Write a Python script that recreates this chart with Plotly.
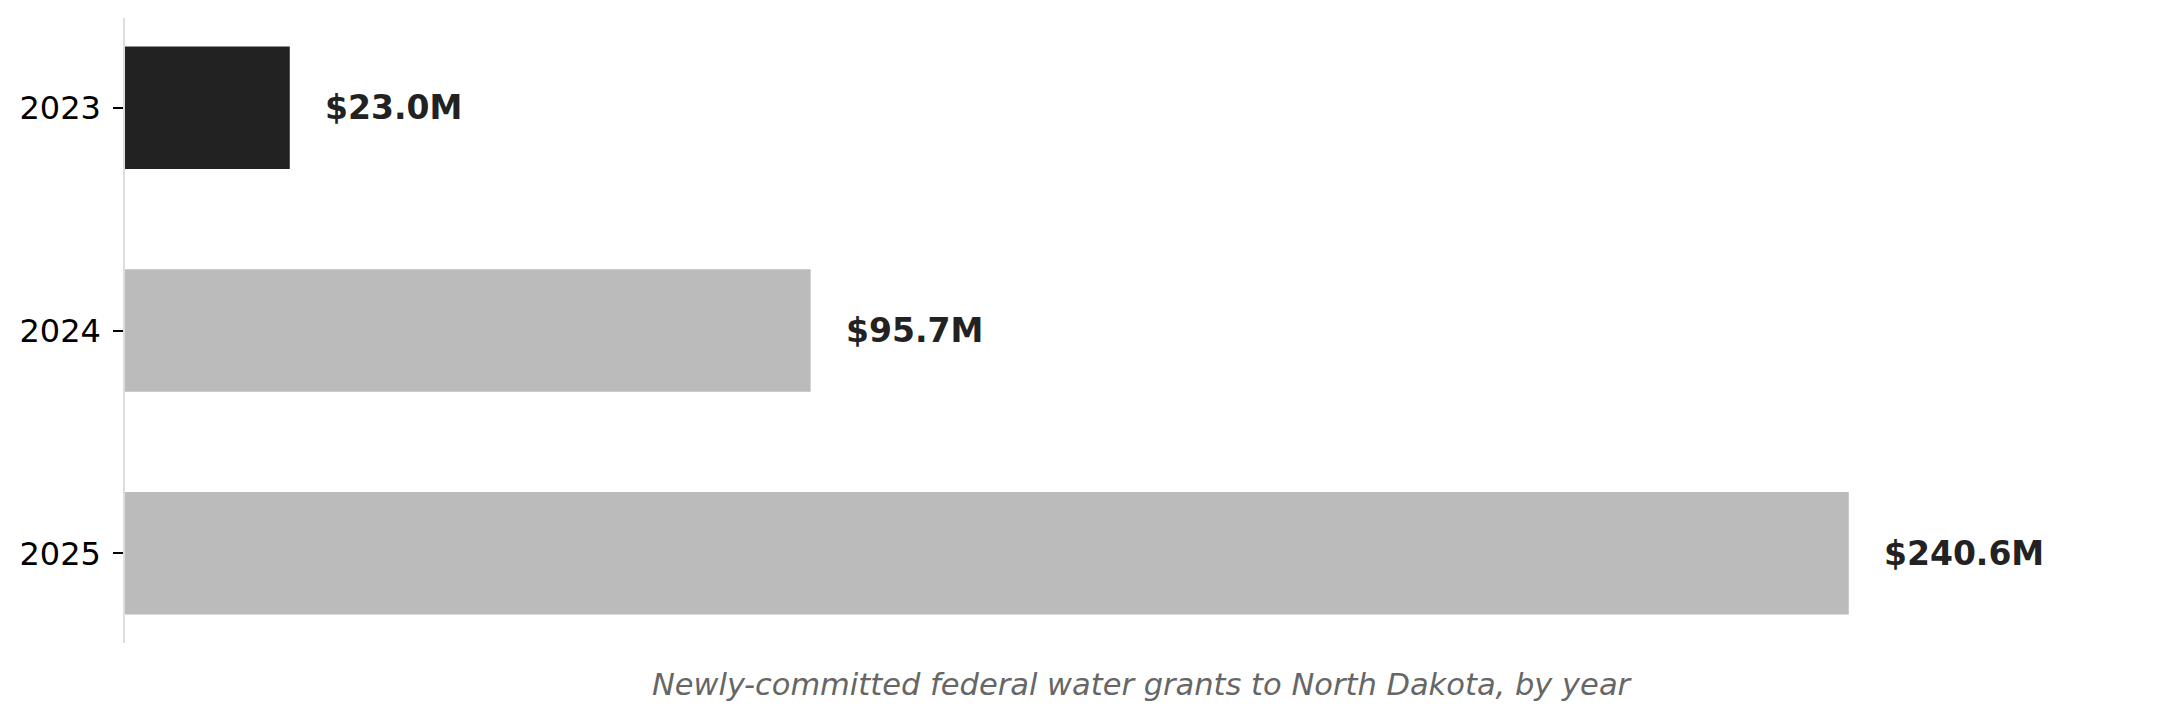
import plotly.graph_objects as go

years = ["2023", "2024", "2025"]
grants_musd = [23.0, 95.7, 240.6]
labels = ["$23.0M", "$95.7M", "$240.6M"]
bar_colors = ["#222222", "#bbbbbb", "#bbbbbb"]
caption = "Newly-committed federal water grants to North Dakota, by year"

fig = go.Figure()
fig.add_trace(go.Bar(
    x=grants_musd, y=years, orientation="h",
    marker=dict(color=bar_colors, line=dict(width=0)),
    width=0.55, hoverinfo="skip",
))

for i, (v, lab) in enumerate(zip(grants_musd, labels)):
    fig.add_annotation(
        x=v, y=i, xref="x", yref="y", text=f"<b>{lab}</b>",
        showarrow=False, xanchor="left", yanchor="middle", xshift=33,
        font=dict(family="DejaVu Sans", size=33, color="#222222"),
    )

fig.add_annotation(
    x=0.5, y=-0.0656, xref="paper", yref="paper", text=f"<i>{caption}</i>",
    showarrow=False, xanchor="center", yanchor="middle",
    font=dict(family="DejaVu Sans", size=30.5, color="#666666"),
)

fig.update_layout(
    width=2179, height=719,
    margin=dict(l=125, r=20, t=18, b=76),
    paper_bgcolor="white", plot_bgcolor="white",
    showlegend=False,
    font=dict(family="DejaVu Sans", color="#000000"),
    xaxis=dict(range=[0, 283.9], showgrid=False, zeroline=False,
               showticklabels=False, ticks="", showline=False),
    yaxis=dict(type="category", categoryorder="array", categoryarray=years,
               range=[2.4025, -0.4025], showgrid=False, zeroline=False,
               showline=True, linecolor="#dddddd", linewidth=1.5,
               ticks="outside", ticklen=10, tickwidth=2, tickcolor="#000000",
               ticklabelstandoff=6,
               tickfont=dict(family="DejaVu Sans", size=32, color="#000000")),
)

fig.write_html("out.html")
